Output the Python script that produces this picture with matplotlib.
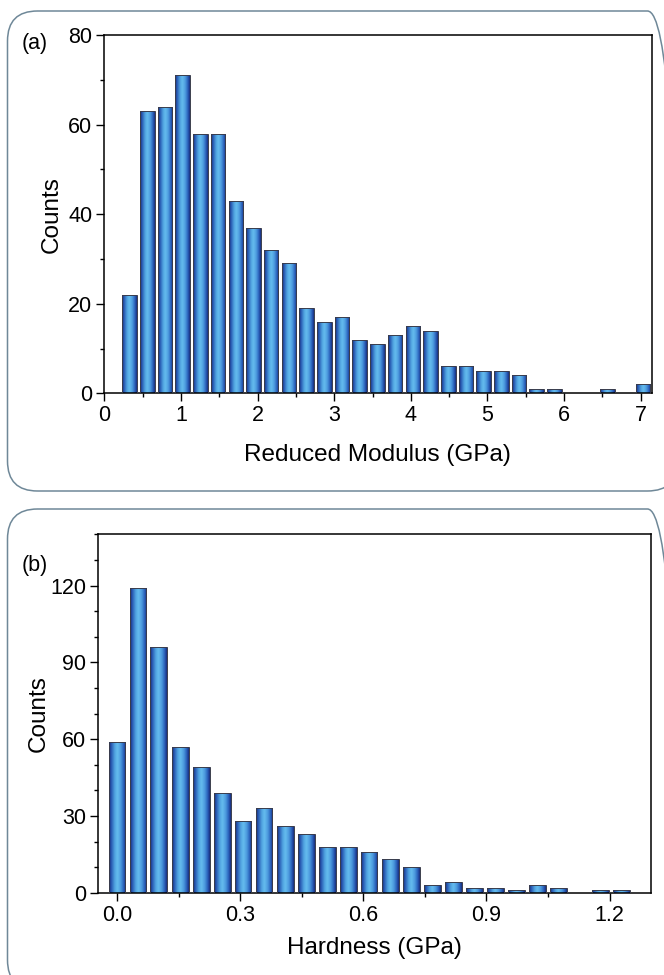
import numpy as np
import matplotlib
matplotlib.use("Agg")
import matplotlib.pyplot as plt
from matplotlib.colors import LinearSegmentedColormap
from matplotlib.patches import FancyBboxPatch
from matplotlib.ticker import MultipleLocator

plt.rcParams['font.family'] = ['Liberation Sans', 'DejaVu Sans']

# ---------------- data ----------------
modulus_centers = [0.330, 0.561, 0.792, 1.023, 1.254, 1.485, 1.716, 1.947, 2.178, 2.409,
                   2.640, 2.871, 3.102, 3.333, 3.564, 3.795, 4.026, 4.257, 4.488, 4.719,
                   4.950, 5.181, 5.412, 5.643, 5.874, 6.105, 6.336, 6.567, 6.798, 7.029]
modulus_counts = [22, 63, 64, 71, 58, 58, 43, 37, 32, 29,
                  19, 16, 17, 12, 11, 13, 15, 14, 6, 6,
                  5, 5, 4, 1, 1, 0, 0, 1, 0, 2]

hardness_centers = [0.000, 0.051, 0.102, 0.154, 0.205, 0.256, 0.307, 0.358, 0.410, 0.461,
                    0.512, 0.563, 0.614, 0.666, 0.717, 0.768, 0.819, 0.870, 0.922, 0.973,
                    1.024, 1.075, 1.126, 1.178, 1.229]
hardness_counts = [59, 119, 96, 57, 49, 39, 28, 33, 26, 23,
                   18, 18, 16, 13, 10, 3, 4, 2, 2, 1,
                   3, 2, 0, 1, 1]

modulus_xticks = [0, 1, 2, 3, 4, 5, 6, 7]
modulus_yticks = [0, 20, 40, 60, 80]
hardness_xticks = [0.0, 0.3, 0.6, 0.9, 1.2]
hardness_xticklabels = ["0.0", "0.3", "0.6", "0.9", "1.2"]
hardness_yticks = [0, 30, 60, 90, 120]

# ---------------- style ----------------
W, H = 664, 975
fig = plt.figure(figsize=(W / 100, H / 100), dpi=100)

cmap = LinearSegmentedColormap.from_list(
    "cyl",
    [(0.0, "#182a72"), (0.12, "#2656b0"), (0.35, "#52a6e2"), (0.5, "#66bdee"),
     (0.7, "#4c9ade"), (0.88, "#285eba"), (1.0, "#192c7a")])
grad = np.linspace(0, 1, 64).reshape(1, -1)

TICK_FS = 15.5
LABEL_FS = 17.5


def px_axes(l, t, r, b):
    return fig.add_axes([l / W, 1 - b / H, (r - l) / W, (b - t) / H])


def draw_bars(ax, centers, counts, width):
    bars = ax.bar(centers, counts, width=width, color="none",
                  edgecolor="#3a3d4c", linewidth=0.7, zorder=3)
    for rect in bars:
        h = rect.get_height()
        if h <= 0:
            continue
        x0 = rect.get_x()
        w = rect.get_width()
        im = ax.imshow(grad, cmap=cmap, aspect="auto",
                       extent=(x0, x0 + w, 0, h), zorder=2, interpolation="bicubic")
        im.set_clip_path(rect)


def style_axes(ax):
    for s in ax.spines.values():
        s.set_linewidth(1.1)
        s.set_color("black")
    ax.tick_params(axis="both", which="major", direction="out", length=5.5,
                   width=1.0, labelsize=TICK_FS, pad=3, top=False, right=False)
    ax.tick_params(axis="both", which="minor", direction="out", length=3,
                   width=1.0, top=False, right=False)


# ---------------- rounded boxes ----------------
box_color = "#6f8898"
box_a = FancyBboxPatch((0.075, 4.84), 6.7, 4.80,
                       boxstyle="round,pad=0,rounding_size=0.3",
                       transform=fig.dpi_scale_trans, fill=False,
                       edgecolor=box_color, linewidth=1.1, zorder=0)
box_b = FancyBboxPatch((0.075, -0.15), 6.7, 4.81,
                       boxstyle="round,pad=0,rounding_size=0.3",
                       transform=fig.dpi_scale_trans, fill=False,
                       edgecolor=box_color, linewidth=1.1, zorder=0)
fig.patches.extend([box_a, box_b])

# ---------------- panel (a) ----------------
ax1 = px_axes(104.3, 35, 651.5, 393.3)
draw_bars(ax1, modulus_centers, modulus_counts, 0.19)
ax1.set_xlim(0, 7.14)
ax1.set_ylim(0, 80)
ax1.set_xticks(modulus_xticks)
ax1.set_yticks(modulus_yticks)
ax1.xaxis.set_minor_locator(MultipleLocator(0.5))
ax1.yaxis.set_minor_locator(MultipleLocator(10))
style_axes(ax1)
ax1.set_xlabel("Reduced Modulus (GPa)", fontsize=LABEL_FS, labelpad=13)
ax1.set_ylabel("Counts", fontsize=LABEL_FS, labelpad=4)
fig.text(22 / W, 1 - 44 / H, "(a)", fontsize=15.5, ha="left", va="center")

# ---------------- panel (b) ----------------
ax2 = px_axes(97.7, 534.3, 650.7, 892.7)
draw_bars(ax2, hardness_centers, hardness_counts, 0.041)
ax2.set_xlim(-0.047, 1.30)
ax2.set_ylim(0, 140)
ax2.set_xticks(hardness_xticks)
ax2.set_xticklabels(hardness_xticklabels)
ax2.set_yticks(hardness_yticks)
ax2.xaxis.set_minor_locator(MultipleLocator(0.15))
ax2.yaxis.set_minor_locator(MultipleLocator(10))
style_axes(ax2)
ax2.set_xlabel("Hardness (GPa)", fontsize=LABEL_FS, labelpad=8)
ax2.set_ylabel("Counts", fontsize=LABEL_FS, labelpad=0)
fig.text(22 / W, 1 - 565 / H, "(b)", fontsize=15.5, ha="left", va="center")

fig.savefig("out.png", dpi=100)
